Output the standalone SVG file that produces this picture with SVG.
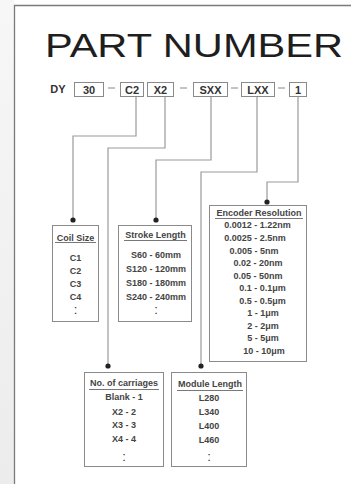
<svg xmlns="http://www.w3.org/2000/svg" width="351" height="484" viewBox="0 0 351 484">
<defs>
<linearGradient id="side" x1="0" y1="0" x2="0" y2="1">
<stop offset="0" stop-color="#f7f7f7"/>
<stop offset="1" stop-color="#ececec"/>
</linearGradient>
<style>
.hd{font-family:"Liberation Sans",Arial,sans-serif;font-weight:bold;font-size:11px;fill:#333;text-anchor:middle}
.t{font-family:"Liberation Sans",Arial,sans-serif;font-weight:bold;font-size:9px;fill:#444;text-anchor:middle}
.el{font-family:"Liberation Sans",Arial,sans-serif;font-weight:normal;font-size:13px;fill:#333;text-anchor:middle}
.box{fill:#fff;stroke:#8a8a8a;stroke-width:1}
.ul{stroke:#555;stroke-width:0.8}
.con{fill:none;stroke:#9a9a9a;stroke-width:1.2}
.dot{fill:#222}
.dash{stroke:#888;stroke-width:1}
</style>
</defs>
<rect x="0" y="0" width="351" height="484" fill="#fff"/>
<rect x="0" y="0" width="14" height="484" fill="url(#side)"/>
<path d="M14.5,484 V5.5 H351" fill="none" stroke="#7a7a7a" stroke-width="1.3"/>
<text x="45" y="57" font-family="'Liberation Sans',Arial,sans-serif" font-size="33.5" fill="#1e1e1e" textLength="298" lengthAdjust="spacingAndGlyphs">PART NUMBER</text>

<g id="header">
<text x="58" y="93" class="hd">DY</text>
<rect class="box" x="74.5" y="82.5" width="29" height="14"/><text x="89" y="93.5" class="hd">30</text>
<line class="dash" x1="108" y1="88" x2="115" y2="88"/>
<rect class="box" x="120.5" y="82.5" width="23" height="14"/><text x="132" y="93.5" class="hd">C2</text>
<rect class="box" x="147.5" y="82.5" width="26" height="14"/><text x="160.5" y="93.5" class="hd">X2</text>
<line class="dash" x1="180" y1="88" x2="187" y2="88"/>
<rect class="box" x="193.5" y="82.5" width="34" height="14"/><text x="210.5" y="93.5" class="hd">SXX</text>
<line class="dash" x1="231" y1="88" x2="238" y2="88"/>
<rect class="box" x="241.5" y="82.5" width="33" height="14"/><text x="258" y="93.5" class="hd">LXX</text>
<line class="dash" x1="278" y1="88" x2="285" y2="88"/>
<rect class="box" x="289.5" y="82.5" width="17" height="14"/><text x="298" y="93.5" class="hd">1</text>
</g>

<g id="connectors">
<polyline class="con" points="136,97 136,136 73,136 73,220"/>
<polyline class="con" points="165,97 165,148 108,148 108,366"/>
<polyline class="con" points="211,97 211,160 156,160 156,220"/>
<polyline class="con" points="257,97 257,172 201,172 201,366"/>
<polyline class="con" points="298,97 298,182 267,182 267,202"/>
<circle class="dot" cx="73" cy="220" r="2.6"/>
<circle class="dot" cx="156" cy="220" r="2.6"/>
<circle class="dot" cx="267" cy="202" r="2.6"/>
<circle class="dot" cx="108" cy="366" r="2.6"/>
<circle class="dot" cx="201" cy="366" r="2.6"/>
</g>

<g id="coil">
<rect class="box" x="52.5" y="225.5" width="46" height="96"/>
<text x="75.5" y="240.5" class="t">Coil Size</text>
<line class="ul" x1="55" y1="242.5" x2="96" y2="242.5"/>
<text x="75.5" y="261" class="t">C1</text>
<text x="75.5" y="274" class="t">C2</text>
<text x="75.5" y="287" class="t">C3</text>
<text x="75.5" y="300" class="t">C4</text>
<text x="75.5" y="314" class="el">:</text>
</g>

<g id="stroke">
<rect class="box" x="118.5" y="225.5" width="73" height="96"/>
<text x="155.5" y="237.5" class="t">Stroke Length</text>
<line class="ul" x1="124" y1="240.5" x2="187" y2="240.5"/>
<text x="156" y="257.5" class="t">S60 - 60mm</text>
<text x="156" y="271.5" class="t">S120 - 120mm</text>
<text x="156" y="285.5" class="t">S180 - 180mm</text>
<text x="156" y="299.5" class="t">S240 - 240mm</text>
<text x="156" y="314" class="el">:</text>
</g>

<g id="encoder">
<rect class="box" x="209.5" y="205.5" width="97" height="156"/>
<text x="259" y="216" class="t">Encoder Resolution</text>
<line class="ul" x1="215" y1="218.5" x2="303" y2="218.5"/>
<text x="257.5" y="228" class="t">0.0012 - 1.22nm</text>
<text x="255" y="241" class="t">0.0025 - 2.5nm</text>
<text x="254" y="254" class="t">0.005 - 5nm</text>
<text x="258" y="266" class="t">0.02 - 20nm</text>
<text x="258" y="279" class="t">0.05 - 50nm</text>
<text x="262.5" y="291" class="t">0.1 - 0.1μm</text>
<text x="262.5" y="304" class="t">0.5 - 0.5μm</text>
<text x="263" y="316" class="t">1 - 1μm</text>
<text x="263" y="329" class="t">2 - 2μm</text>
<text x="263" y="341" class="t">5 - 5μm</text>
<text x="264" y="354" class="t">10 - 10μm</text>
</g>

<g id="carriages">
<rect class="box" x="84.5" y="372.5" width="79" height="94"/>
<text x="124" y="386" class="t">No. of carriages</text>
<line class="ul" x1="89" y1="389.5" x2="159" y2="389.5"/>
<text x="124" y="400" class="t">Blank - 1</text>
<text x="124" y="415" class="t">X2 - 2</text>
<text x="124" y="428" class="t">X3 - 3</text>
<text x="124" y="442" class="t">X4 - 4</text>
<text x="124" y="461" class="el">:</text>
</g>

<g id="module">
<rect class="box" x="171.5" y="372.5" width="75" height="94"/>
<text x="210" y="387" class="t">Module Length</text>
<line class="ul" x1="177" y1="390.5" x2="243" y2="390.5"/>
<text x="209" y="401" class="t">L280</text>
<text x="209" y="415" class="t">L340</text>
<text x="209" y="429" class="t">L400</text>
<text x="209" y="443" class="t">L460</text>
<text x="209" y="461" class="el">:</text>
</g>
</svg>
